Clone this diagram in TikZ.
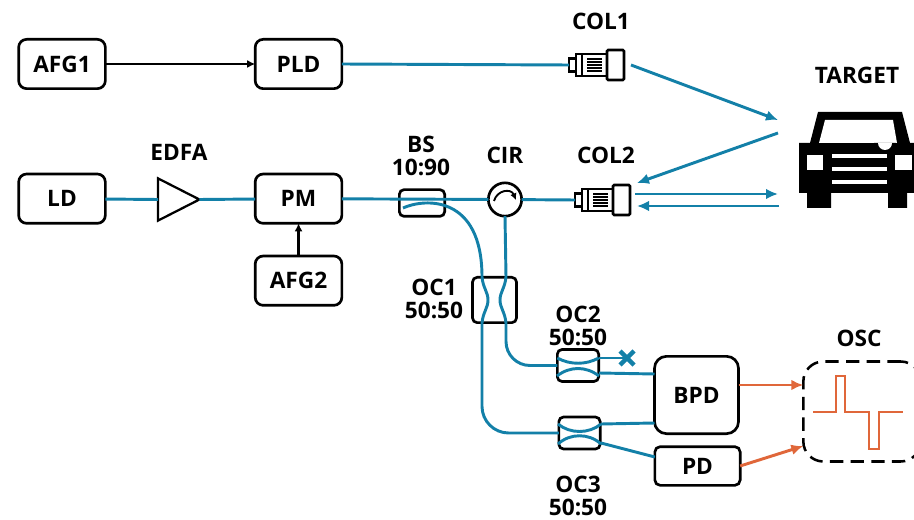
\documentclass[tikz,border=0pt]{standalone}
\usepackage{xcolor}
\usepackage{fontspec}
\setmainfont{Open Sans}
\usetikzlibrary{arrows.meta,positioning,shapes.geometric}
\definecolor{fiberblue}{HTML}{1380A8}
\definecolor{sigorange}{HTML}{E0673A}
\tikzset{
  box/.style={draw=black, line width=2pt, rounded corners=6pt, minimum width=65pt, minimum height=37pt, inner sep=0pt, outer sep=0pt, align=center, font=\labelfont},
  coupler/.style={draw=black, line width=2pt, rounded corners=3.5pt, inner sep=0pt, outer sep=0pt},
  lbl/.style={align=center, font=\labelfont, inner sep=0pt},
  fiber/.style={draw=fiberblue, line width=2.2pt},
  beam/.style={fiber, -{Latex[length=9pt,width=8pt]}},
  elec/.style={draw=black, line width=1.7pt, -{Latex[length=6pt,width=6pt]}},
  sigline/.style={draw=sigorange, line width=2.2pt, -{Latex[length=9pt,width=8pt]}},
  collimator/.pic={
    \coordinate (-port) at (-28,0);
    \draw[black, line width=2pt, fill=white] (-28,-6.5) rectangle (-21,6.5);
    \draw[black, line width=2pt, fill=white] (-21,-11) rectangle (10,11);
    \draw[black, line width=2pt, fill=white, rounded corners=1pt] (10,-15) rectangle (27,15);
    \foreach \ty in {-6,-3,0,3,6}
      \draw[black, line width=1.4pt] (-10,\ty) -- (5,\ty);
    \draw[black, line width=2pt] (-15,-10) -- (-15,10);
  }
}
\newcommand{\labelfont}{\fontsize{17}{17.25}\selectfont\bfseries}

\begin{document}
\begin{tikzpicture}[x=0.75pt, y=-0.75pt]
    \useasboundingbox (0,0) rectangle (914,520);

    % top and middle rows
    \node[box] (afg1) at (62,64) {AFG1};
    \node[box, right=112.4pt of afg1] (pld) {PLD};
    \node[box, below=64pt of afg1] (ld) {LD};
    \node[box, right=112.4pt of ld] (pm) {PM};
    \node[box, below=24.5pt of pm] (afg2) {AFG2};
    \node[draw=black, line width=1.7pt, isosceles triangle, isosceles triangle apex angle=54, minimum height=31pt, inner sep=0pt, outer sep=0pt] (edfa) at (171,199.5) {};
    \node[coupler, minimum width=34pt, minimum height=20pt] (bs) at (422,203) {};
    \node[draw=black, line width=2pt, fill=white, circle, minimum size=25pt, inner sep=0pt, outer sep=0pt] (cir) at (505,199.5) {};

    % couplers and detectors
    \node[coupler, minimum width=33pt, minimum height=34pt] (oc1) at (494.5,300) {};
    \node[coupler, minimum width=31pt, minimum height=24pt] (oc2) at (578,365.5) {};
    \node[coupler, minimum width=31pt, minimum height=24pt] (oc3) at (579.5,433) {};
    \node[box, minimum width=63pt, minimum height=58pt, rounded corners=9pt] (bpd) at (696.5,395) {BPD};
    \node[box, minimum width=64pt, minimum height=29pt, rounded corners=4pt] (pd) at (697.5,466) {PD};
    \node[draw=black, line width=1.9pt, dash pattern=on 10pt off 5.5pt, rounded corners=15pt, inner sep=0pt, outer sep=0pt, minimum width=88pt, minimum height=75pt] (osc) at (862,411.5) {};

    % labels
    \node[lbl] (edfalbl) at (179,152) {EDFA};
    \node[lbl] (bslbl) at (421,155.5) {BS\\10:90};
    \node[lbl] (cirlbl) at (505,155) {CIR};
    \node[lbl] (col1lbl) at (601,21) {COL1};
    \node[lbl] (col2lbl) at (606,155) {COL2};
    \node[lbl] (targetlbl) at (857,75) {TARGET};
    \node[lbl] (oc1lbl) at (434,299) {OC1\\50:50};
    \node[lbl] (oc2lbl) at (578,325.5) {OC2\\50:50};
    \node[lbl] (oc3lbl) at (578,495.5) {OC3\\50:50};
    \node[lbl] (osclbl) at (859,338) {OSC};

    % collimators
    \pic (col1) at (597,65) {collimator};
    \pic (col2) at (603,200) {collimator};

    % free ends of the fibres and beams
    \coordinate (bsout) at (403,208);
    \coordinate (oc1nw) at (482,277);
    \coordinate (oc1ne) at (506,277);
    \coordinate (oc1sw) at (482,323);
    \coordinate (oc1se) at (506,323);
    \coordinate (cross) at (627,358);
    \coordinate (t1) at (778,120);
    \coordinate (t2) at (778,133);
    \coordinate (t3) at (778,194);
    \coordinate (t4) at (779,206);
    \coordinate (c1) at (631,65);
    \coordinate (c2) at (637,183);
    \coordinate (c3) at (635,194);
    \coordinate (c4) at (637,206);

    \draw[elec] (afg1) -- (pld);
    \draw[elec] (afg2) -- (pm);

    \draw[fiber] (pld.east) -- (col1-port);
    \draw[fiber] (ld) -- (edfa.west);
    \draw[fiber] (edfa.east) -- (pm);
    \draw[fiber] (pm) -- (cir);
    \draw[fiber] (cir) -- (col2-port);
    \draw[fiber] (cir.south) -- (oc1ne);
    \draw[fiber] (bsout) .. controls (425,198) and (482,195) .. (oc1nw);
    \draw[fiber] (oc1nw) .. controls (483,288) and (488,292) .. (488,300) .. controls (488,308) and (483,312) .. (oc1sw);
    \draw[fiber] (oc1ne) .. controls (505,288) and (500,292) .. (500,300) .. controls (500,308) and (505,312) .. (oc1se);
    \draw[fiber, rounded corners=18pt] (oc1se) |- (oc2.west);
    \draw[fiber, rounded corners=20pt] (oc1sw) |- (oc3.west);

    % inside of OC2 and OC3
    \draw[fiber] (oc2.west |- cross) .. controls (570,365) and (586,365) .. (oc2.east |- cross);
    \draw[fiber] (557,376) .. controls (570,366) and (586,366) .. (599,376);
    \draw[fiber] (558,424) .. controls (570,434) and (589,434) .. (601,424);
    \draw[fiber] (558,444) .. controls (570,433) and (589,433) .. (601,444);

    \draw[fiber] (oc2.east |- cross) -- (cross);
    \draw[fiber] (599,373) -- (bpd.west |- 0,374);
    \draw[fiber] (601,424) -- (bpd.west |- 0,423);
    \draw[fiber] (601,443) -- (pd.west |- 0,457);
    \draw[draw=fiberblue, line width=3.2pt] (620,351) -- (634,365);
    \draw[draw=fiberblue, line width=3.2pt] (634,351) -- (620,365);

    % beams
    \draw[beam] (c1) -- (t1);
    \draw[beam] (t2) -- (c2);
    \draw[beam] (c3) -- (t3);
    \draw[beam] (t4) -- (c4);

    % detector outputs and trace
    \draw[sigline] (bpd.east |- 0,385) -- (osc.west |- 0,385);
    \draw[sigline] (pd.east) -- (osc.west |- 0,446);
    \draw[draw=sigorange, line width=2.2pt] (813,412) -- (836,412) -- (836,376) -- (845,376) -- (845,412) -- (869,412) -- (869,449) -- (879,449) -- (879,412) -- (903,412);

    % circulator arrow
    \draw[black, line width=1.4pt, -{Latex[length=5pt,width=5pt]}] (494,201) .. controls (497,190) and (511,188) .. (516,200);

    % target car
    \fill[black] (818,112) -- (902,112) -- (910,143) -- (914,143) -- (914,193) -- (907,193) -- (907,208) -- (888,208) -- (888,193) -- (831,193) -- (831,208) -- (807,208) -- (807,193) -- (799,193) -- (799,143) -- (810,143) -- cycle;
    \fill[white] (825,120) -- (893,120) -- (897,143) -- (819,143) -- cycle;
    \fill[black] (874,143) arc[start angle=180, end angle=0, radius=11] -- cycle;
    \fill[white] (878,143) arc[start angle=180, end angle=0, radius=7] -- cycle;
    \fill[white] (807,155) rectangle (823,170);
    \fill[white] (895,155) rectangle (912,170);
    \foreach \gy in {154,167,180}
      \fill[white] (832,\gy) rectangle (887,\gy+4);
  \end{tikzpicture}
\end{document}
